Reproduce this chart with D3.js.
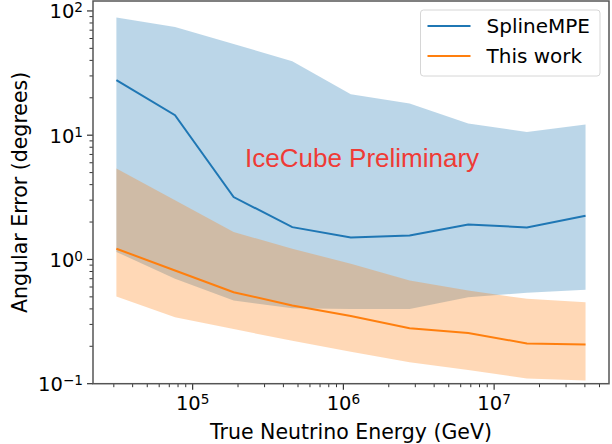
<!DOCTYPE html>
<html>
<head>
<meta charset="utf-8">
<script src="https://cdn.jsdelivr.net/npm/d3@7"></script>
<style>
  body { margin: 0; background: #fff; }
  svg { display: block; font-family: "DejaVu Sans", sans-serif; }
</style>
</head>
<body>
<div id="chart"></div>
<script>
// bin centres (GeV) and angular error percentiles (degrees)
const energy = [3.12e4, 7.64e4, 1.87e5, 4.58e5, 1.12e6, 2.75e6, 6.73e6, 1.65e7, 4.04e7];
const splineMed = [27.8, 14.5, 3.18, 1.82, 1.50, 1.56, 1.91, 1.81, 2.25];
const splineLo = [1.15, 0.70, 0.467, 0.405, 0.40, 0.40, 0.497, 0.54, 0.57];
const splineHi = [88.5, 74.3, 54.2, 39.3, 21.4, 18.0, 12.4, 10.6, 12.2];
const workMed = [1.22, 0.815, 0.545, 0.426, 0.35, 0.279, 0.256, 0.211, 0.207];
const workLo = [0.503, 0.343, 0.275, 0.222, 0.181, 0.149, 0.129, 0.110, 0.106];
const workHi = [5.39, 2.99, 1.66, 1.22, 0.923, 0.677, 0.562, 0.482, 0.453];
const xTicks = [1e5, 1e6, 1e7];
const yTicks = [0.1, 1, 10, 100];
const seriesNames = ["SplineMPE", "This work"];
const colors = ["#1f77b4", "#ff7f0e"];

const W = 612, H = 444;
const margin = { top: 1, right: 3, bottom: 60.3, left: 93 };
const width = W - margin.left - margin.right;
const height = H - margin.top - margin.bottom;

const svg = d3.select("#chart").append("svg")
    .attr("width", W)
    .attr("height", H);

const g = svg.append("g")
    .attr("transform", `translate(${margin.left},${margin.top})`);

const x = d3.scaleLog()
    .domain([Math.pow(10, 4.339), Math.pow(10, 7.762)])
    .range([0, width]);

const y = d3.scaleLog()
    .domain([0.1, Math.pow(10, 2.08)])
    .range([height, 0]);

const series = [
    { med: splineMed, lo: splineLo, hi: splineHi },
    { med: workMed, lo: workLo, hi: workHi }
];

const area = d3.area()
    .x(d => x(d.e))
    .y0(d => y(d.lo))
    .y1(d => y(d.hi));

const line = d3.line()
    .x(d => x(d.e))
    .y(d => y(d.v));

// bands
series.forEach((s, i) => {
    const pts = energy.map((e, j) => ({ e: e, lo: s.lo[j], hi: s.hi[j] }));
    g.append("path")
        .datum(pts)
        .attr("d", area)
        .attr("fill", colors[i])
        .attr("fill-opacity", 0.3);
});

// medians
series.forEach((s, i) => {
    const pts = energy.map((e, j) => ({ e: e, v: s.med[j] }));
    g.append("path")
        .datum(pts)
        .attr("d", line)
        .attr("fill", "none")
        .attr("stroke", colors[i])
        .attr("stroke-width", 2);
});

// watermark
g.append("text")
    .attr("x", 245 - margin.left)
    .attr("y", 167 - margin.top)
    .attr("fill", "#ef3b36")
    .style("font-family", "'Liberation Sans', Arial, sans-serif")
    .style("font-size", "26px")
    .text("IceCube Preliminary");

// ticks
const axisColor = "#333";
function minorTicks(scale) {
    const [a, b] = scale.domain();
    const out = [];
    for (let p = Math.floor(Math.log10(a)); p <= Math.ceil(Math.log10(b)); p++) {
        for (let k = 2; k <= 9; k++) {
            const v = k * Math.pow(10, p);
            if (v >= a && v <= b) out.push(v);
        }
    }
    return out;
}

g.selectAll(".xminor").data(minorTicks(x)).enter().append("line")
    .attr("x1", d => x(d)).attr("x2", d => x(d))
    .attr("y1", height).attr("y2", height + 3.5)
    .attr("stroke", axisColor).attr("stroke-width", 1);
g.selectAll(".xmajor").data(xTicks).enter().append("line")
    .attr("x1", d => x(d)).attr("x2", d => x(d))
    .attr("y1", height).attr("y2", height + 6)
    .attr("stroke", axisColor).attr("stroke-width", 1.2);

g.selectAll(".yminor").data(minorTicks(y)).enter().append("line")
    .attr("x1", 0).attr("x2", -3.5)
    .attr("y1", d => y(d)).attr("y2", d => y(d))
    .attr("stroke", axisColor).attr("stroke-width", 1);
g.selectAll(".ymajor").data(yTicks).enter().append("line")
    .attr("x1", 0).attr("x2", -6)
    .attr("y1", d => y(d)).attr("y2", d => y(d))
    .attr("stroke", axisColor).attr("stroke-width", 1.2);

function powLabel(sel, d) {
    const exp = Math.round(Math.log10(d));
    sel.append("tspan").text("10");
    sel.append("tspan")
        .attr("dy", "-0.45em")
        .style("font-size", "0.7em")
        .text(exp < 0 ? "\u2212" + (-exp) : exp);
}

g.selectAll(".xlab").data(xTicks).enter().append("text")
    .attr("x", d => x(d))
    .attr("y", height + 26)
    .attr("text-anchor", "middle")
    .style("font-size", "19.5px")
    .each(function(d) { powLabel(d3.select(this), d); });

g.selectAll(".ylab").data(yTicks).enter().append("text")
    .attr("x", -10)
    .attr("y", d => y(d) + 7.5)
    .attr("text-anchor", "end")
    .style("font-size", "19.5px")
    .each(function(d) { powLabel(d3.select(this), d); });

// frame
g.append("rect")
    .attr("width", width)
    .attr("height", height)
    .attr("fill", "none")
    .attr("stroke", "#555")
    .attr("stroke-width", 1.5);

// axis labels
g.append("text")
    .attr("x", width / 2)
    .attr("y", height + 55)
    .attr("text-anchor", "middle")
    .style("font-size", "20.5px")
    .text("True Neutrino Energy (GeV)");

g.append("text")
    .attr("transform", `translate(${20 - margin.left},${height / 2}) rotate(-90)`)
    .attr("text-anchor", "middle")
    .attr("dy", "0.35em")
    .style("font-size", "20.5px")
    .text("Angular Error (degrees)");

// legend
const lg = svg.append("g").attr("transform", "translate(420.5,10)");
lg.append("rect")
    .attr("width", 179.5)
    .attr("height", 66)
    .attr("rx", 3)
    .attr("fill", "#fff")
    .attr("fill-opacity", 0.8)
    .attr("stroke", "#d6d6d6");
seriesNames.forEach((name, i) => {
    const ly = 16 + i * 30;
    lg.append("line")
        .attr("x1", 7).attr("x2", 50)
        .attr("y1", ly).attr("y2", ly)
        .attr("stroke", colors[i])
        .attr("stroke-width", 2);
    lg.append("text")
        .attr("x", 66)
        .attr("y", ly + 7)
        .style("font-size", "20px")
        .text(name);
});
</script>
</body>
</html>
